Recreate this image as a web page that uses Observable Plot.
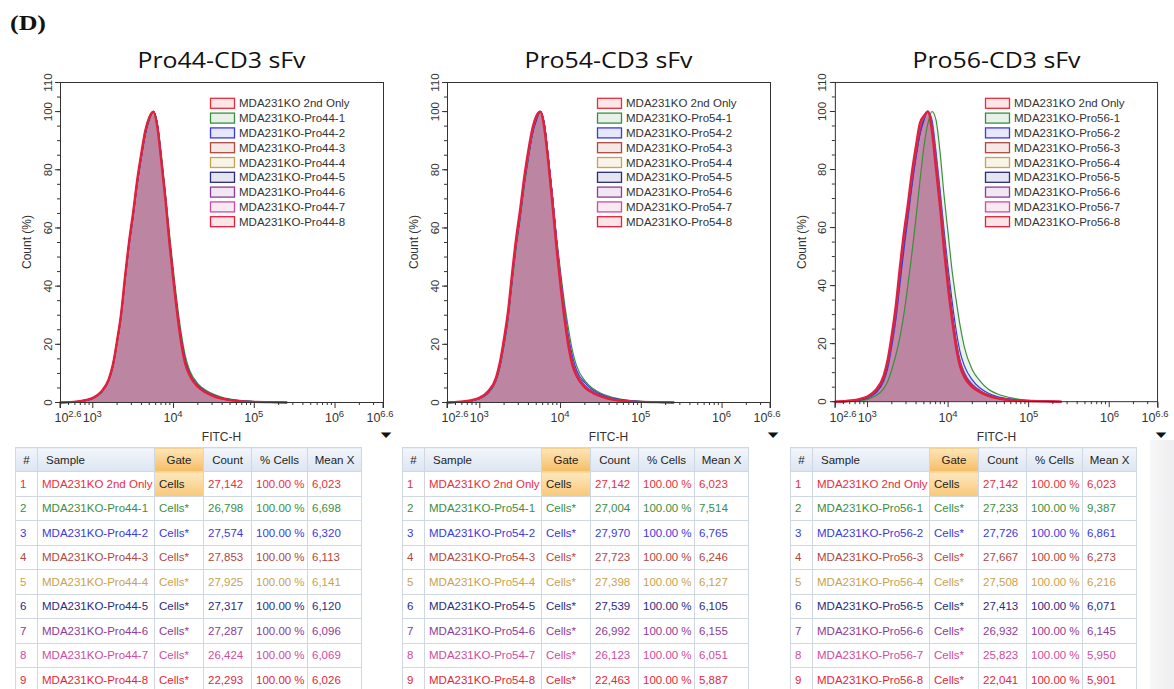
<!DOCTYPE html>
<html><head><meta charset="utf-8">
<script src="https://cdn.jsdelivr.net/npm/d3@7"></script>
<script src="https://cdn.jsdelivr.net/npm/@observablehq/plot@0.6"></script>
<style>
html,body{margin:0;padding:0;background:#fff;}
#root{position:relative;width:1174px;height:689px;overflow:hidden;background:#fff;}
.plot{position:absolute;top:70px;}
.plot svg{overflow:visible;display:block}
#overlay{position:absolute;left:0;top:0;pointer-events:none}
#grayband{position:absolute;left:1150px;top:440px;width:24px;height:249px;background:linear-gradient(90deg,#f7f7f8,#eeeef0);}
table.stats{position:absolute;top:447px;border-collapse:collapse;table-layout:fixed;font-family:"Liberation Sans",Arial,sans-serif;font-size:11.5px;}
table.stats th, table.stats td{border:1px solid #cfd7e2;padding:0 0 0 4px;height:23.5px;white-space:nowrap;overflow:hidden;text-align:left;font-weight:normal}
table.stats th{background:linear-gradient(#f3f6fb,#dce5f1);color:#1e1e1e;text-align:center;height:23px;padding:0}
table.stats th.sample{text-align:left;padding-left:8px}
table.stats th.gate{background:linear-gradient(#fde6b8,#f5bd66)}
table.stats td.gsel{background:linear-gradient(#fde8c0,#f8c878);color:#1e1e1e !important}
</style></head>
<body><div id="root"><div id="grayband"></div></div>
<script>
// ---------- data ----------
const panelTitles = ["Pro44-CD3 sFv", "Pro54-CD3 sFv", "Pro56-CD3 sFv"];
const constructs = ["Pro44", "Pro54", "Pro56"];
const seriesColors = ["#ea2e3c", "#3a8f3f", "#3a3ae0", "#b0483f", "#c9a24e", "#2b2b7f", "#8d3b98", "#d04b9f", "#e41f3c"];
const lineWidths = [1.6, 1.2, 1.2, 1.2, 1.2, 1.2, 1.2, 1.4, 2.3];

const xTickExponents = [2.6, 3, 4, 5, 6, 6.6];
const yTickValues = [0, 20, 40, 60, 80, 100, 110];

// log10(FITC-H) positions of the histogram points
const logGrid = [2.6,2.8,2.9,3.0,3.1,3.2,3.25,3.3,3.35,3.4,3.45,3.5,3.55,3.6,3.65,3.7,3.75,3.8,3.85,3.9,3.95,4.0,4.05,4.1,4.15,4.2,4.3,4.4,4.5,4.6,4.8,5.0,5.2,5.4];

const secondOnly = [0,0.3,0.7,1.5,3.5,8,13,21,30,43,55,65,76,85,93,98,100,95,83,70,55,42,30,20,13,9.5,5.5,3.5,2.2,1.3,0.5,0.2,0.1,0];

const pro44_1 = [0,0.2,0.6,1.3,3.2,7.5,12,20,29,42,54,64,75,84,92,97,100,96,85,72,58,45,33,23,15.5,11,6.5,4.2,2.8,1.8,0.8,0.3,0.1,0];
const pro44_2 = [0,0.2,0.6,1.4,3.3,7.8,12.5,20.5,29.5,42,54,64,75,84,92,97.5,100,95.5,84,71,56,43,31,21,14,10,6,3.9,2.5,1.5,0.6,0.3,0.1,0];
const pro44_3 = [0,0.3,0.7,1.5,3.4,8,13,21,30,43,55,65,76,85,93,98,100,95,83,70,55,42,30.5,20.5,13.5,9.8,5.7,3.6,2.3,1.4,0.5,0.2,0.1,0];
const pro44_4 = [0,0.3,0.7,1.5,3.4,7.9,13,21,30,42.5,54.5,65,76,85,93,98,100,95,83.5,70.5,55.5,42.5,30.5,20.5,13.5,9.8,5.8,3.6,2.3,1.4,0.5,0.2,0.1,0];
const pro44_5 = [0,0.2,0.6,1.4,3.3,7.8,12.8,20.8,29.8,42.5,54.5,64.5,75.5,84.5,92.5,97.5,100,95.5,83.5,70.5,56,43,31,21,14,10,5.9,3.7,2.4,1.5,0.6,0.3,0.1,0];
const pro44_6 = [0,0.3,0.7,1.5,3.4,8,13,21,30,43,55,65,76,85,93,98,100,95,83,70,55,42,30,20.5,13.3,9.6,5.6,3.5,2.2,1.3,0.5,0.2,0.1,0];
const pro44_7 = [0,0.3,0.7,1.5,3.5,8,13,21,30,43,55,65,76,85,93,98,100,95,83,70,55,42,30,20,13,9.5,5.5,3.5,2.2,1.3,0.5,0.2,0.1,0];
const pro44_8 = [0,0.3,0.8,1.6,3.6,8.2,13.2,21.2,30.5,43.5,55.5,65.5,76.5,85.5,93.5,98,100,94.5,82.5,69.5,54.5,41.5,29.5,19.5,12.8,9.3,5.4,3.4,2.1,1.3,0.5,0.2,0.1,0];

const pro54_1 = [0,0.2,0.6,1.3,3.1,7.3,12,19.5,28.5,41,53,63,74,83.5,92,97,100,96,84,71,57,45,34,25,17.5,12.5,7.5,4.8,3.2,2.1,0.9,0.4,0.15,0];
const pro54_2 = [0,0.2,0.6,1.4,3.2,7.6,12.5,20,29,42,54,64,75,84,92,97,100,95.5,84,71,56,43.5,32,22.5,15.5,11,6.8,4.3,2.8,1.8,0.8,0.3,0.1,0];
const pro54_3 = [0,0.3,0.7,1.5,3.4,7.9,12.8,20.8,29.8,42.8,54.8,64.8,75.8,84.8,92.8,97.8,100,95.3,83.5,70.5,55.5,42.5,31,21,14,10,5.9,3.7,2.4,1.5,0.6,0.2,0.1,0];
const pro54_4 = [0,0.3,0.7,1.5,3.4,8,13,21,30,43,55,65,76,85,93,98,100,95,83,70,55,42,30.5,20.5,13.5,9.8,5.8,3.6,2.3,1.4,0.5,0.2,0.1,0];
const pro54_5 = [0,0.2,0.6,1.4,3.3,7.8,12.8,20.8,29.8,42.5,54.5,64.5,75.5,84.5,92.5,97.5,100,95.5,83.5,70.5,55.5,42.5,30.5,20.5,13.5,9.8,5.7,3.6,2.3,1.4,0.5,0.2,0.1,0];
const pro54_6 = [0,0.3,0.7,1.5,3.4,8,13,21,30,43,55,65,76,85,93,98,100,95.2,83.5,70.5,55.5,42.5,30.5,20.8,13.8,10,5.8,3.7,2.3,1.4,0.5,0.2,0.1,0];
const pro54_7 = [0,0.3,0.7,1.5,3.5,8,13,21,30,43,55,65,76,85,93,98,100,95,83,70,55,42,30,20,13,9.5,5.5,3.5,2.2,1.3,0.5,0.2,0.1,0];
const pro54_8 = [0,0.4,0.8,1.7,3.8,8.5,14,22,31.5,44.5,56.5,66.5,77.5,86.5,94,98.5,100,94,82,68,53,40,28.5,19,12.5,9,5.2,3.3,2.1,1.2,0.5,0.2,0.1,0];

const pro56_1 = [0,0.1,0.3,0.8,2,4.5,7,11,16,22,30,40,51,63,76,88,96,100,97,86,71,58,45,35,26,19,11,7,4.3,2.8,1.2,0.5,0.2,0];
const pro56_2 = [0,0.2,0.6,1.3,3,7,11.5,19,28,40,52,63,74,84,92,97,100,97,86,73,59,46,34.5,24.5,17,12.5,7.5,4.6,2.9,1.8,0.8,0.3,0.1,0];
const pro56_3 = [0,0.3,0.7,1.5,3.4,7.9,12.8,20.8,29.8,42.8,54.8,64.8,75.8,84.8,92.8,97.8,100,95.5,84,71,56,43,31,21,14,10,6,3.8,2.4,1.5,0.6,0.2,0.1,0];
const pro56_4 = [0,0.3,0.7,1.5,3.4,7.9,13,21,30,43,55,65,76,85,93,98,100,95.3,83.5,70.5,55.8,42.8,30.8,20.8,13.8,10,5.9,3.7,2.3,1.4,0.5,0.2,0.1,0];
const pro56_5 = [0,0.2,0.6,1.4,3.3,7.8,12.8,20.8,29.8,42.5,54.5,64.5,75.5,84.5,92.5,97.5,100,95,83,70,55,42,30,20,13.2,9.6,5.6,3.5,2.2,1.3,0.5,0.2,0.1,0];
const pro56_6 = [0,0.3,0.7,1.5,3.4,8,13,21,30,43,55,65,76,85,93,98,100,95.2,83.5,70.5,55.5,42.5,30.5,20.8,13.8,10,5.8,3.7,2.3,1.4,0.5,0.2,0.1,0];
const pro56_7 = [0,0.4,0.9,1.8,3.9,8.8,14.2,22.5,32,45,57,67,78,87,95,98,100,93.5,81,68,53,40,28.5,19,12.5,8.8,5.1,3.3,2.1,1.2,0.5,0.2,0.1,0];
const pro56_8 = [0,0.4,0.9,1.8,4,9,14.5,23,33,46,58,68,79,88,96,98.5,100,93,80,67,52,39,28,18.5,12,8.5,5,3.2,2,1.2,0.5,0.2,0.1,0];

// statistics tables
const count44 = [27142, 26798, 27574, 27853, 27925, 27317, 27287, 26424, 22293];
const mean44  = [6023, 6698, 6320, 6113, 6141, 6120, 6096, 6069, 6026];
const count54 = [27142, 27004, 27970, 27723, 27398, 27539, 26992, 26123, 22463];
const mean54  = [6023, 7514, 6765, 6246, 6127, 6105, 6155, 6051, 5887];
const count56 = [27142, 27233, 27726, 27667, 27508, 27413, 26932, 25823, 22041];
const mean56  = [6023, 9387, 6861, 6273, 6216, 6071, 6145, 5950, 5901];
const pctCells = [100, 100, 100, 100, 100, 100, 100, 100, 100];
const tableHeaders = ["#", "Sample", "Gate", "Count", "% Cells", "Mean X"];

// ---------- build ----------
const panels = [
  {title: panelTitles[0], name: constructs[0], curves: [secondOnly, pro44_1, pro44_2, pro44_3, pro44_4, pro44_5, pro44_6, pro44_7, pro44_8], count: count44, mean: mean44},
  {title: panelTitles[1], name: constructs[1], curves: [secondOnly, pro54_1, pro54_2, pro54_3, pro54_4, pro54_5, pro54_6, pro54_7, pro54_8], count: count54, mean: mean54},
  {title: panelTitles[2], name: constructs[2], curves: [secondOnly, pro56_1, pro56_2, pro56_3, pro56_4, pro56_5, pro56_6, pro56_7, pro56_8], count: count56, mean: mean56}
];
const plotLeft = [0, 387, 775];
const M = {left: 60, right: 17, top: 12, bottom: 48, w: 400, h: 380, top0: 70};

const xMajor = xTickExponents.map(e => 10 ** e);
const xMinor = [];
for (let d = 2; d <= 6; d++) for (let k = 2; k <= 9; k++) { const v = k * 10 ** d; if (v >= 10 ** 2.6 && v <= 10 ** 6.6) xMinor.push(v); }
const yMinor = d3.range(0, 111, 5);

const root = document.getElementById("root");
const ns = "http://www.w3.org/2000/svg";
const ov = document.createElementNS(ns, "svg");
ov.setAttribute("id", "overlay");
ov.setAttribute("width", 1174); ov.setAttribute("height", 689);
function txt(x, y, s, attrs) {
  const t = document.createElementNS(ns, "text");
  t.setAttribute("x", x); t.setAttribute("y", y);
  for (const k in attrs) t.setAttribute(k, attrs[k]);
  t.textContent = s; ov.appendChild(t); return t;
}

function sampleNames(p) {
  return ["MDA231KO 2nd Only"].concat(d3.range(1, 9).map(k => `MDA231KO-${p.name}-${k}`));
}

panels.forEach((p, pi) => {
  const data = p.curves.map(ys => ys.map((y, j) => ({x: 10 ** logGrid[j], y})));
  const marks = [];
  data.forEach((d, i) => marks.push(Plot.areaY(d, {x: "x", y: "y", fill: seriesColors[i], fillOpacity: 0.11, curve: "monotone-x"})));
  data.forEach((d, i) => marks.push(Plot.lineY(d, {x: "x", y: "y", stroke: seriesColors[i], strokeWidth: lineWidths[i], curve: "monotone-x"})));
  marks.push(Plot.frame({stroke: "#333"}));
  marks.push(Plot.axisY(yMinor, {tickSize: 3, tickFormat: () => "", label: null}));
  marks.push(Plot.axisY(yTickValues, {tickSize: 5, tickRotate: -90, label: null, fontSize: 11.5}));
  marks.push(Plot.axisX(xMinor, {tickSize: 3, tickFormat: () => "", label: null}));
  marks.push(Plot.axisX(xMajor, {tickSize: 6, tickFormat: () => "", label: null}));
  const svg = Plot.plot({
    width: M.w, height: M.h,
    marginLeft: M.left, marginRight: M.right, marginTop: M.top, marginBottom: M.bottom,
    x: {type: "log", domain: [10 ** 2.6, 10 ** 6.6]},
    y: {domain: [0, 110]},
    style: {fontFamily: "'Liberation Sans', Arial, sans-serif", fontSize: "11px", color: "#333", background: "transparent", overflow: "visible"},
    marks
  });
  const div = document.createElement("div");
  div.className = "plot";
  div.style.left = plotLeft[pi] + "px";
  div.appendChild(svg);
  root.appendChild(div);

  // x tick labels 10^e placed with the plot's own x scale
  const xs = svg.scale("x");
  xTickExponents.forEach(e => {
    let px = plotLeft[pi] + xs.apply(10 ** e);
    if (e === 2.6) px += 8;
    if (e === 6.6) px -= 3;
    const t = txt(px, 422, "", {"font-family": "'Liberation Sans Narrow', 'Liberation Sans', Arial", "font-size": 12.5, fill: "#333", "text-anchor": "middle"});
    const t1 = document.createElementNS(ns, "tspan"); t1.textContent = "10";
    const t2 = document.createElementNS(ns, "tspan"); t2.textContent = String(e);
    t2.setAttribute("dy", "-5"); t2.setAttribute("font-size", "9.5");
    t.append(t1, t2);
  });
  // end ticks of the x axis
  [10 ** 2.6, 10 ** 6.6].forEach(v => {
    const l = document.createElementNS(ns, "line");
    const px = plotLeft[pi] + xs.apply(v);
    l.setAttribute("x1", px); l.setAttribute("x2", px);
    l.setAttribute("y1", M.top0 + M.h - M.bottom); l.setAttribute("y2", M.top0 + M.h - M.bottom + 6);
    l.setAttribute("stroke", "#333");
    ov.appendChild(l);
  });

  // table
  const tbl = document.createElement("table");
  tbl.className = "stats";
  tbl.style.left = (plotLeft[pi] + 15) + "px";
  const widths = [22, 117, 49, 48, 56, 54];
  const cg = document.createElement("colgroup");
  widths.forEach(w => { const c = document.createElement("col"); c.style.width = w + "px"; cg.appendChild(c); });
  tbl.appendChild(cg);
  const hr = document.createElement("tr");
  tableHeaders.forEach((h, i) => {
    const th = document.createElement("th");
    th.textContent = h;
    if (i === 1) th.className = "sample";
    if (i === 2) th.className = "gate";
    hr.appendChild(th);
  });
  tbl.appendChild(hr);
  const names = sampleNames(p);
  const fmt = d3.format(",");
  names.forEach((n, i) => {
    const tr = document.createElement("tr");
    tr.style.color = seriesColors[i];
    const cells = [String(i + 1), n, i === 0 ? "Cells" : "Cells*", fmt(p.count[i]), pctCells[i].toFixed(2) + " %", fmt(p.mean[i])];
    cells.forEach((c, j) => {
      const td = document.createElement("td");
      td.textContent = c;
      if (j === 2 && i === 0) td.className = "gsel";
      tr.appendChild(td);
    });
    tbl.appendChild(tr);
  });
  root.appendChild(tbl);
});

// ---------- overlay text: titles, labels, legends ----------
txt(10, 30, "(D)", {"font-family": "'Liberation Serif', serif", "font-weight": "bold", "font-size": 21, fill: "#111", textLength: 36, lengthAdjust: "spacingAndGlyphs"});
panels.forEach((p, pi) => {
  const fl = plotLeft[pi] + M.left, fr = plotLeft[pi] + M.w - M.right;
  const cx = (fl + fr) / 2;
  txt(cx, 68, p.title, {"font-family": "'Open Sans', sans-serif", "font-size": 22.5, fill: "#111", "text-anchor": "middle", textLength: 168, lengthAdjust: "spacingAndGlyphs"});
  txt(cx, 441, "FITC-H", {"font-family": "'Liberation Sans', Arial", "font-size": 12, fill: "#333", "text-anchor": "middle"});
  txt(0, 0, "Count (%)", {"font-family": "'Liberation Sans', Arial", "font-size": 12, fill: "#333", "text-anchor": "middle",
    transform: `translate(${fl - 29},242) rotate(-90)`});
  txt(0, 0, "▼", {"font-family": "'DejaVu Sans'", "font-size": 11, fill: "#111", "text-anchor": "middle",
    transform: `translate(${fr + 3},437) scale(1.25,0.65)`});
  // legend
  sampleNames(p).forEach((n, i) => {
    const y = 103.3 + i * 14.8;
    const r = document.createElementNS(ns, "rect");
    r.setAttribute("x", fl + 150.5); r.setAttribute("y", y - 5); r.setAttribute("width", 24); r.setAttribute("height", 10);
    r.setAttribute("fill", seriesColors[i]); r.setAttribute("fill-opacity", 0.12);
    r.setAttribute("stroke", seriesColors[i]); r.setAttribute("stroke-width", 1.3);
    ov.appendChild(r);
    txt(fl + 179, y + 4, n, {"font-family": "'Liberation Sans', Arial", "font-size": 11.5, fill: "#333"});
  });
});
root.appendChild(ov);
</script></body></html>
